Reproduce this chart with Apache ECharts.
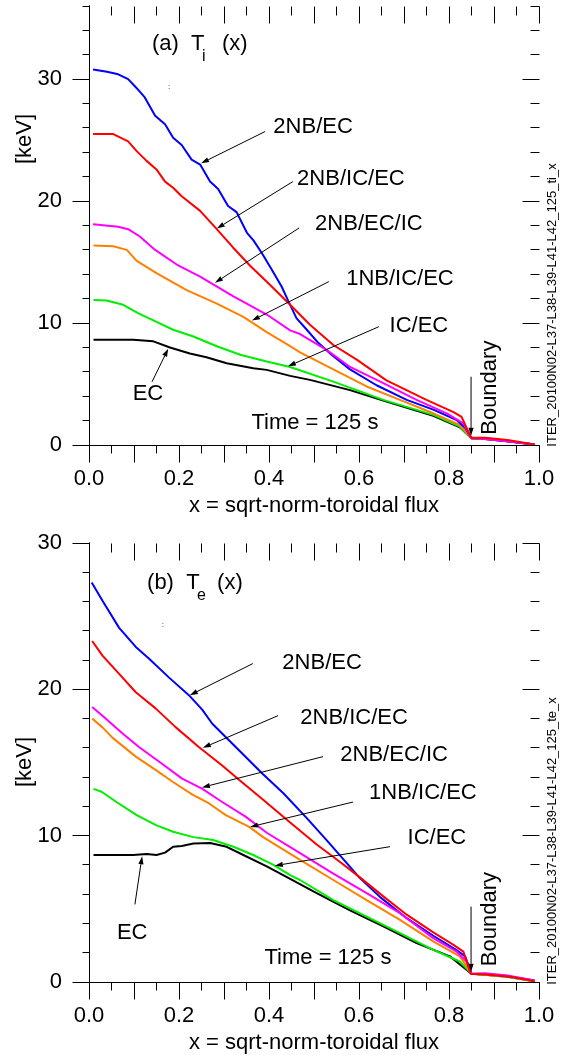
<!DOCTYPE html>
<html>
<head>
<meta charset="utf-8">
<script src="https://cdn.jsdelivr.net/npm/echarts@6/dist/echarts.min.js"></script>
<style>
html,body{margin:0;padding:0;background:#fff}
#chart{width:565px;height:1055px}
#probe{position:absolute;left:-2000px;top:0;width:565px;height:1055px}
</style>
</head>
<body>
<div id="chart"></div>
<div id="probe"></div>
<script>
// ---- Ion temperature Ti(x), keV, at t = 125 s: [x, Ti] ----
const ti2NbEc = [[0.009,30.8],[0.04,30.6],[0.065,30.4],[0.087,30.0],[0.105,29.3],[0.124,28.5],[0.147,27.0],[0.169,26.3],[0.187,25.2],[0.206,24.6],[0.228,23.4],[0.247,23.0],[0.269,21.6],[0.287,21.0],[0.309,19.6],[0.328,19.1],[0.351,17.4],[0.365,16.8],[0.384,15.75],[0.406,14.4],[0.428,13.0],[0.443,11.8],[0.461,10.4],[0.484,9.45],[0.51,8.36],[0.539,7.4],[0.58,6.2],[0.639,4.9],[0.706,3.7],[0.765,2.9],[0.817,2.05],[0.836,1.4],[0.85,0.55],[0.87,0.55],[0.92,0.35],[0.99,0.05]];
const ti2NbIcEc = [[0.009,25.5],[0.054,25.5],[0.087,24.9],[0.106,24.1],[0.128,23.3],[0.15,22.6],[0.169,21.6],[0.187,21.1],[0.206,20.4],[0.247,19.2],[0.284,17.7],[0.32,16.2],[0.358,14.7],[0.406,13.0],[0.447,11.5],[0.491,9.86],[0.543,8.2],[0.595,7.0],[0.661,5.3],[0.75,3.7],[0.81,2.7],[0.828,2.3],[0.849,0.6],[0.88,0.6],[0.93,0.42],[0.99,0.05]];
const ti2NbEcIc = [[0.009,18.1],[0.065,17.9],[0.087,17.7],[0.113,17.1],[0.128,16.6],[0.147,16.0],[0.195,14.8],[0.247,13.8],[0.32,12.2],[0.395,10.7],[0.447,9.4],[0.469,9.1],[0.528,7.8],[0.58,6.4],[0.654,5.07],[0.728,3.7],[0.795,2.6],[0.832,1.78],[0.85,0.55],[0.88,0.5],[0.93,0.3],[0.99,0.05]];
const ti1NbIcEc = [[0.01,16.35],[0.054,16.3],[0.084,16.0],[0.106,15.1],[0.15,14.1],[0.217,12.7],[0.284,11.6],[0.343,10.5],[0.395,9.25],[0.447,8.1],[0.469,7.6],[0.543,6.2],[0.617,4.8],[0.691,3.7],[0.765,2.6],[0.824,1.64],[0.85,0.55],[0.88,0.5],[0.93,0.3],[0.99,0.05]];
const tiIcEc = [[0.01,11.9],[0.039,11.85],[0.076,11.5],[0.11,10.8],[0.15,10.1],[0.187,9.45],[0.232,8.9],[0.284,8.1],[0.336,7.4],[0.395,6.85],[0.447,6.4],[0.543,5.2],[0.654,3.7],[0.765,2.47],[0.824,1.5],[0.85,0.55],[0.88,0.5],[0.93,0.3],[0.99,0.05]];
const tiEc = [[0.01,8.63],[0.098,8.63],[0.143,8.5],[0.18,8.0],[0.224,7.5],[0.261,7.2],[0.306,6.7],[0.365,6.3],[0.395,6.16],[0.447,5.67],[0.491,5.34],[0.58,4.5],[0.661,3.56],[0.765,2.4],[0.824,1.45],[0.85,0.55],[0.88,0.5],[0.93,0.3],[0.99,0.05]];

// ---- Electron temperature Te(x), keV, at t = 125 s: [x, Te] ----
const te2NbEc = [[0.006,27.3],[0.03,26.06],[0.067,24.2],[0.104,22.9],[0.133,22.1],[0.178,20.8],[0.222,19.6],[0.252,18.6],[0.274,17.65],[0.326,16.06],[0.385,14.25],[0.432,12.9],[0.484,11.2],[0.528,9.7],[0.565,8.4],[0.602,7.1],[0.647,5.8],[0.706,4.36],[0.765,3.16],[0.816,2.2],[0.836,1.75],[0.85,0.57],[0.88,0.55],[0.93,0.4],[0.99,0.1]];
const te2NbIcEc = [[0.007,23.3],[0.03,22.3],[0.067,21.06],[0.104,19.8],[0.148,18.7],[0.193,17.4],[0.244,16.06],[0.296,14.8],[0.334,13.8],[0.385,12.5],[0.447,10.9],[0.506,9.4],[0.558,8.2],[0.602,7.15],[0.654,5.85],[0.706,4.6],[0.765,3.39],[0.81,2.54],[0.832,2.08],[0.848,0.57],[0.89,0.5],[0.94,0.35],[0.99,0.05]];
const te2NbEcIc = [[0.007,18.8],[0.03,18.2],[0.074,17.0],[0.111,16.06],[0.163,14.9],[0.207,13.9],[0.252,13.2],[0.296,12.3],[0.348,11.3],[0.395,10.2],[0.469,8.8],[0.543,7.4],[0.617,6.07],[0.691,4.7],[0.765,3.0],[0.816,2.1],[0.839,1.4],[0.85,0.57],[0.88,0.6],[0.93,0.45],[0.99,0.1]];
const te1NbIcEc = [[0.007,18.0],[0.03,17.4],[0.052,16.7],[0.104,15.4],[0.148,14.5],[0.185,13.7],[0.23,12.8],[0.267,12.2],[0.304,11.4],[0.356,10.6],[0.387,9.9],[0.469,8.34],[0.543,6.97],[0.617,5.6],[0.691,4.25],[0.765,2.78],[0.824,1.75],[0.85,0.57],[0.88,0.5],[0.93,0.35],[0.99,0.05]];
const teIcEc = [[0.01,13.2],[0.028,13.0],[0.061,12.3],[0.106,11.4],[0.15,10.7],[0.187,10.27],[0.232,9.9],[0.276,9.7],[0.321,9.24],[0.365,8.68],[0.41,8.0],[0.447,7.3],[0.469,6.97],[0.543,5.6],[0.617,4.47],[0.691,3.34],[0.765,2.2],[0.824,1.4],[0.85,0.57],[0.88,0.5],[0.93,0.35],[0.99,0.05]];
const teEc = [[0.01,8.68],[0.098,8.68],[0.128,8.75],[0.15,8.68],[0.169,8.84],[0.187,9.24],[0.206,9.3],[0.232,9.47],[0.269,9.5],[0.306,9.24],[0.343,8.68],[0.395,7.9],[0.447,7.05],[0.506,6.07],[0.58,4.9],[0.654,3.8],[0.728,2.66],[0.802,1.75],[0.85,0.57],[0.88,0.5],[0.93,0.35],[0.99,0.05]];

// scenario names and line colours (drawing order: first is drawn underneath)
const scenarioNames = ['EC', 'IC/EC', '1NB/IC/EC', '2NB/EC', '2NB/EC/IC', '2NB/IC/EC'];
const scenarioColors = ['#000000', '#00ee00', '#ff8000', '#0000ff', '#ff00ff', '#ff0000'];
const tiSeries = [tiEc, tiIcEc, ti1NbIcEc, ti2NbEc, ti2NbEcIc, ti2NbIcEc];
const teSeries = [teEc, teIcEc, te1NbIcEc, te2NbEc, te2NbEcIc, te2NbIcEc];

// axis ranges, labelled ticks and tick spacing
const xTickValues = [0, 0.2, 0.4, 0.6, 0.8, 1.0];
const yMajorTicks = [0, 10, 20, 30];
const tiMax = 36, teMax = 30;
const xMinorStep = 0.05, xMajorStep = 0.1;
const yMinorStep = 2, yMajorStep = 10;

const FONT = '"Liberation Sans", Arial, Helvetica, sans-serif';
const INK = '#000';

const panelRects = [
  {left: 89, width: 450, top: 6, height: 439},
  {left: 89, width: 450, top: 543, height: 439}
];
const panelMax = [tiMax, teMax];
const axisIdx = [{x: 0, y: 0}, {x: 2, y: 2}];

const crisp = v => Math.round(v - 0.5) + 0.5;
const isMultiple = (v, step) => Math.abs(v / step - Math.round(v / step)) < 1e-6;

function axisLine() { return {show: true, lineStyle: {color: INK, width: 1}}; }

// Tick marks drawn by a custom series on each panel's own coordinate system:
// outward on the bottom and left axes, inward on the top and right axes.
function tickRenderer(p) {
  return function (params, api) {
    const max = panelMax[p];
    const seg = (x1, y1, x2, y2) => ({
      type: 'line', shape: {x1: x1, y1: y1, x2: x2, y2: y2},
      style: {stroke: INK, lineWidth: 1}
    });
    const origin = api.coord([0, 0]);
    const corner = api.coord([1, max]);
    const xL = crisp(origin[0]), yB = crisp(origin[1]);
    const xR = crisp(corner[0]), yT = crisp(corner[1]);
    const children = [];
    for (let k = 0; k <= Math.round(1 / xMinorStep); k++) {
      const xv = k * xMinorStep;
      const px = crisp(api.coord([xv, 0])[0]);
      const major = isMultiple(xv, xMajorStep);
      children.push(seg(px, yB, px, yB + (major ? 17 : 8)));
      children.push(seg(px, yT, px, yT + (major ? 17 : 9)));
    }
    for (let k = 0; k <= Math.round(max / yMinorStep); k++) {
      const yv = k * yMinorStep;
      const py = crisp(api.coord([0, yv])[1]);
      const major = isMultiple(yv, yMajorStep);
      children.push(seg(xL - (major ? 17 : 7), py, xL, py));
      children.push(seg(xR - (major ? 17 : 9), py, xR, py));
    }
    return {type: 'group', children: children};
  };
}

function buildOption() {
  const grids = [], xAxes = [], yAxes = [];
  panelRects.forEach((rect, p) => {
    grids.push(Object.assign({}, rect));
    const max = panelMax[p];
    xAxes.push({
      gridIndex: p, type: 'value', min: 0, max: 1, interval: xMajorStep, position: 'bottom',
      splitLine: {show: false}, axisLine: axisLine(), axisTick: {show: false},
      name: 'x = sqrt-norm-toroidal flux', nameLocation: 'middle', nameGap: 50,
      nameTextStyle: {fontSize: 22, color: INK, fontFamily: FONT},
      axisLabel: {
        margin: 23, fontSize: 22, color: INK, fontFamily: FONT,
        formatter: v => {
          const hit = xTickValues.find(t => Math.abs(t - v) < 1e-6);
          return hit === undefined ? '' : hit.toFixed(1);
        }
      }
    });
    xAxes.push({
      gridIndex: p, type: 'value', min: 0, max: 1, interval: xMajorStep, position: 'top',
      splitLine: {show: false}, axisLine: axisLine(), axisTick: {show: false},
      axisLabel: {show: false}
    });
    yAxes.push({
      gridIndex: p, type: 'value', min: 0, max: max, interval: yMinorStep, position: 'left',
      splitLine: {show: false}, axisLine: axisLine(), axisTick: {show: false},
      axisLabel: {show: true, customValues: yMajorTicks, margin: 27, fontSize: 22, color: INK, fontFamily: FONT}
    });
    yAxes.push({
      gridIndex: p, type: 'value', min: 0, max: max, interval: yMinorStep, position: 'right',
      splitLine: {show: false}, axisLine: axisLine(), axisTick: {show: false},
      axisLabel: {show: false}
    });
  });

  const makeSeries = (list, p) => list.map((data, i) => ({
    type: 'line',
    name: scenarioNames[i],
    xAxisIndex: axisIdx[p].x,
    yAxisIndex: axisIdx[p].y,
    data: data,
    showSymbol: false,
    symbol: 'none',
    smooth: false,
    silent: true,
    lineStyle: {color: scenarioColors[i], width: 2},
    z: 2 + i
  }));

  const tickSeries = panelRects.map((rect, p) => ({
    type: 'custom',
    name: 'ticks-' + p,
    xAxisIndex: axisIdx[p].x,
    yAxisIndex: axisIdx[p].y,
    data: [[0.5, 0]],
    renderItem: tickRenderer(p),
    clip: false,
    silent: true,
    z: 30
  }));

  return {
    animation: false,
    backgroundColor: '#fff',
    grid: grids,
    xAxis: xAxes,
    yAxis: yAxes,
    series: makeSeries(tiSeries, 0).concat(makeSeries(teSeries, 1), tickSeries)
  };
}

// ---- annotations, placed in data coordinates of each panel ----
const panelNotes = [
  {
    heading: {main: '(a)  T', sub: 'i', tail: '(x)', at: [0.14, 32.9]},
    dots: [0.178, 29.4],
    labels: [
      {text: '2NB/EC', at: [0.498, 26.1], from: [0.391, 25.7], to: [0.249, 23.1]},
      {text: '2NB/IC/EC', at: [0.582, 21.8], from: [0.453, 21.6], to: [0.284, 17.75]},
      {text: '2NB/EC/IC', at: [0.622, 18.1], from: [0.467, 17.8], to: [0.28, 13.3]},
      {text: '1NB/IC/EC', at: [0.691, 13.6], from: [0.533, 13.4], to: [0.362, 10.2]},
      {text: 'IC/EC', at: [0.733, 9.78], from: [0.644, 9.7], to: [0.442, 6.45]},
      {text: 'EC', at: [0.131, 4.2], from: [0.14, 5.18], to: [0.176, 7.9]}
    ],
    time: {text: 'Time = 125 s', at: [0.502, 1.8]},
    boundary: {text: 'Boundary', at: [0.891, 4.7], from: [0.849, 5.6], to: [0.849, 0.75]},
    yTitleY: 139,
    runId: {text: 'ITER_20100N02-L37-L38-L39-L41-L42_125_ti_x', y: 305}
  },
  {
    heading: {main: '(b)  T', sub: 'e', tail: '(x)', at: [0.129, 27.3]},
    dots: [0.164, 24.4],
    labels: [
      {text: '2NB/EC', at: [0.518, 21.8], from: [0.364, 21.76], to: [0.224, 19.6]},
      {text: '2NB/IC/EC', at: [0.589, 18.06], from: [0.42, 18.2], to: [0.253, 16.0]},
      {text: '2NB/EC/IC', at: [0.678, 15.5], from: [0.52, 15.4], to: [0.251, 13.3]},
      {text: '1NB/IC/EC', at: [0.742, 12.95], from: [0.587, 12.3], to: [0.358, 10.6]},
      {text: 'IC/EC', at: [0.773, 9.86], from: [0.669, 9.25], to: [0.413, 7.95]},
      {text: 'EC', at: [0.096, 3.37], from: [0.102, 5.3], to: [0.118, 8.6]}
    ],
    time: {text: 'Time = 125 s', at: [0.531, 1.66]},
    boundary: {text: 'Boundary', at: [0.891, 4.3], from: [0.849, 5.15], to: [0.849, 0.7]},
    yTitleY: 762,
    runId: {text: 'ITER_20100N02-L37-L38-L39-L41-L42_125_te_x', y: 841}
  }
];

function textEl(str, x, y, size, opts) {
  const el = {
    type: 'text', x: x, y: y, silent: true, z: 20,
    style: {text: str, fontSize: size, fontFamily: FONT, fill: INK,
            align: (opts && opts.align) || 'center', verticalAlign: 'middle'}
  };
  if (opts && opts.rotation !== undefined) el.rotation = opts.rotation;
  return el;
}

function segEl(x1, y1, x2, y2) {
  return {type: 'line', silent: true, z: 20,
          shape: {x1: x1, y1: y1, x2: x2, y2: y2},
          style: {stroke: INK, lineWidth: 1}};
}

function arrowEls(p1, p2) {
  const dx = p2[0] - p1[0], dy = p2[1] - p1[1];
  const len = Math.hypot(dx, dy), ux = dx / len, uy = dy / len;
  const headLen = 8, headHalf = 2.6;
  const bx = p2[0] - ux * headLen, by = p2[1] - uy * headLen;
  return [
    segEl(p1[0], p1[1], bx, by),
    {type: 'polygon', silent: true, z: 20,
     shape: {points: [[p2[0], p2[1]], [bx - uy * headHalf, by + ux * headHalf], [bx + uy * headHalf, by - ux * headHalf]]},
     style: {fill: INK}}
  ];
}

// Lay the chart out once off-screen to map annotation data coordinates to pixels.
const probe = echarts.init(document.getElementById('probe'), null, {width: 565, height: 1055});
probe.setOption(buildOption());
const toPx = (p, pt) => probe.convertToPixel({xAxisIndex: axisIdx[p].x, yAxisIndex: axisIdx[p].y}, pt);

const graphics = [];
panelNotes.forEach((note, p) => {
  // panel heading with subscript
  const h = toPx(p, note.heading.at);
  graphics.push(textEl(note.heading.main, h[0], h[1], 22, {align: 'left'}));
  graphics.push(textEl(note.heading.sub, h[0] + 50, h[1] + 13, 16, {align: 'left'}));
  graphics.push(textEl(note.heading.tail, h[0] + 70, h[1], 22, {align: 'left'}));

  const d = toPx(p, note.dots);
  graphics.push(textEl(':', d[0], d[1], 8));

  note.labels.forEach(lb => {
    const a = toPx(p, lb.at);
    graphics.push(textEl(lb.text, a[0], a[1], 22));
    graphics.push(...arrowEls(toPx(p, lb.from), toPx(p, lb.to)));
  });

  const t = toPx(p, note.time.at);
  graphics.push(textEl(note.time.text, t[0], t[1], 22));

  const b = toPx(p, note.boundary.at);
  graphics.push(textEl(note.boundary.text, b[0], b[1], 22, {rotation: Math.PI / 2}));
  graphics.push(...arrowEls(toPx(p, note.boundary.from), toPx(p, note.boundary.to)));

  graphics.push(textEl('[keV]', 25, note.yTitleY, 22, {rotation: Math.PI / 2}));
  graphics.push(textEl(note.runId.text, 552, note.runId.y, 13, {rotation: Math.PI / 2}));
});
probe.dispose();

// Final chart: one setOption with curves, axes, ticks and annotations.
const chart = echarts.init(document.getElementById('chart'), null, {renderer: 'canvas'});
const option = buildOption();
option.graphic = {elements: graphics};
chart.setOption(option);
</script>
</body>
</html>
